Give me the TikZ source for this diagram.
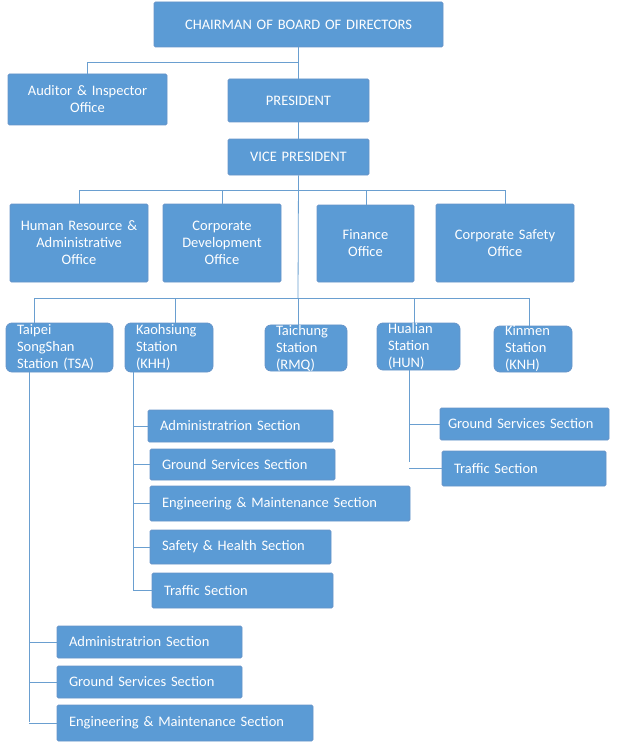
\documentclass[tikz,border=0pt]{standalone}
\usepackage{fontspec}
\setmainfont{Carlito}
\begin{document}
\begin{tikzpicture}[x=1pt,y=-1pt,
  box/.style={draw=blue!50!black!70!cyan!60, fill=boxc, line width=0.8pt, text=white, font=\fontsize{14.5}{17}\selectfont, inner sep=0pt, align=center, rounded corners=1.5pt},
  st/.style={box, rounded corners=6pt, align=left},
  sec/.style={box, align=left},
  ln/.style={draw=linec, line width=0.8pt}]
\definecolor{boxc}{HTML}{5B9BD5}
\definecolor{linec}{HTML}{6A9FD0}
\useasboundingbox (0,0) rectangle (618,749);
\newcommand{\bx}[8]{\node[#1, minimum width=#4-#2, minimum height=#5-#3, text width=#4-#2-#8] (#6) at ({(#2+#4)/2},{(#3+#5)/2}) {#7};}
\bx{box}{154}{2}{443}{47}{ch}{CHAIRMAN OF BOARD OF DIRECTORS}{8}
\bx{box}{8}{74}{167}{125}{aud}{Auditor \& Inspector\\Office}{8}
\bx{box}{228}{79}{369}{122}{pres}{PRESIDENT}{8}
\bx{box}{228}{139}{369}{175}{vp}{VICE PRESIDENT}{8}
\bx{box}{10}{204}{148}{282}{hr}{Human Resource \&\\Administrative\\Office}{4}
\bx{box}{163}{204}{281}{282}{cd}{Corporate\\Development\\Office}{4}
\bx{box}{317}{205}{414}{282}{fin}{Finance\\Office}{4}
\bx{box}{436}{204}{574}{282}{cs}{Corporate Safety\\Office}{4}
\bx{st}{6}{323}{113}{372}{tsa}{Taipei\\SongShan\\Station (TSA)}{22}
\bx{st}{125}{323}{213}{372}{khh}{Kaohsiung\\Station\\(KHH)}{22}
\bx{st}{265}{326}{347}{370}{rmq}{Taichung\\Station\\(RMQ)}{22}
\bx{st}{377}{323}{460}{370}{hun}{Hualian\\Station\\(HUN)}{22}
\bx{st}{494}{326}{572}{372}{knh}{Kinmen\\Station\\(KNH)}{22}
\bx{sec}{148}{410}{333}{442}{k1}{Administratrion Section}{24}
\bx{sec}{150}{449}{335}{480}{k2}{Ground Services Section}{24}
\bx{sec}{150}{486}{410}{521}{k3}{Engineering \& Maintenance Section}{24}
\bx{sec}{150}{530}{331}{564}{k4}{Safety \& Health Section}{24}
\bx{sec}{152}{573}{333}{608}{k5}{Traffic Section}{24}
\bx{sec}{440}{408}{609}{440}{h1}{Ground Services Section}{16}
\bx{sec}{442}{451}{606}{486}{h2}{Traffic Section}{24}
\bx{sec}{57}{626}{242}{658}{t1}{Administratrion Section}{24}
\bx{sec}{57}{666}{242}{698}{t2}{Ground Services Section}{24}
\bx{sec}{57}{705}{313}{741}{t3}{Engineering \& Maintenance Section}{24}
\path[ln] (ch.south) -- (pres.north);
\path[ln] (298,62) -| (aud.north);
\path[ln] (pres.south) -- (vp.north);
\path[ln] (vp.south) -- (298,298);
\foreach \n/\x in {hr/79,cd/222,fin/366,cs/505} \path[ln] (298,190) -| (\x,0 |- \n.north);
\foreach \n/\x in {tsa/34,khh/175,rmq/298,hun/414,knh/529} \path[ln] (298,298) -| (\x,0 |- \n.north);
\path[ln] (29,372) -- (29,722);
\foreach \n in {t1,t2,t3} \path[ln] (29,0 |- \n.west) -- (\n.west);
\path[ln] (133,372) -- (133,590);
\foreach \n in {k1,k2,k3,k4,k5} \path[ln] (133,0 |- \n.west) -- (\n.west);
\path[ln] (409,370) -- (409,462);
\path[ln] (409,0 |- h1.west) -- (h1.west);
\path[ln] (409,0 |- h2.west) -- (h2.west);
\end{tikzpicture}
\end{document}
